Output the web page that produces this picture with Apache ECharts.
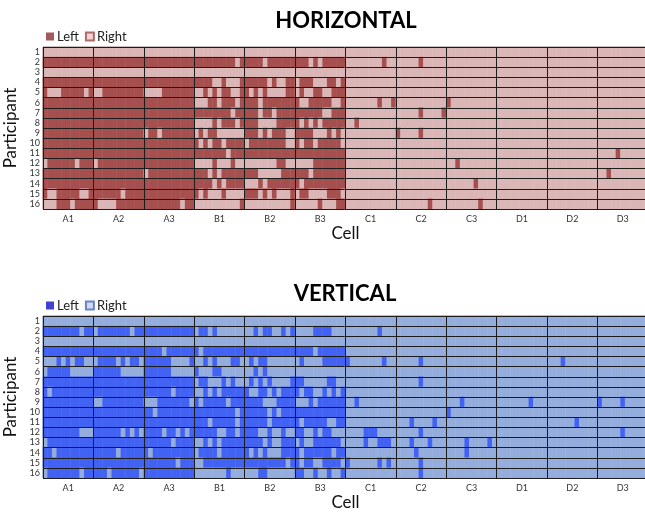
<!DOCTYPE html>
<html><head><meta charset="utf-8">
<script src="https://cdn.jsdelivr.net/npm/echarts@6/dist/echarts.min.js"></script>
<style>html,body{margin:0;padding:0;background:#fff}#c{width:645px;height:512px}</style>
</head><body><div id="c"></div>
<script>
const cells = ['A1','A2','A3','B1','B2','B3','C1','C2','C3','D1','D2','D3'];
const participants = ['1','2','3','4','5','6','7','8','9','10','11','12','13','14','15','16'];
const trialsPerCell = 11;
// 1 = Left, 0 = Right; one group of 11 trials per cell (A1 ... D3)
const horizontalRows = [
"00000000000 00000000000 00000000000 00000000000 00000000000 00000000000 00000000000 00000000000 00000000000 00000000000 00000000000 00000000000",
"11111111111 11111111111 11111111111 11111111101 11110111111 11101011111 00000000100 00000100000 00000000000 00000000000 00000000000 00000000000",
"00000000000 00000000000 00000000000 00000000000 00000000000 00000000000 00000000000 00000000000 00000000000 00000000000 00000000000 00000000000",
"11111111111 11111111111 11111111111 11110010001 11111010011 01110001101 00000000000 00000000000 00000000000 00000000000 00000000000 00000000000",
"10001111101 00111111111 00001111111 00101011001 10101000011 01001100111 00000000000 00000000000 00000000000 00000000000 00000000000 00000000000",
"11111111111 11111111111 11111111111 00011011101 11101111111 10011111001 00000001001 00000000000 10000000000 00000000000 00000000000 00000000000",
"11111111111 11111111111 11111111111 11111111011 11101101111 11111100111 00000000000 00000100001 00000000000 00000000000 00000000000 00000000000",
"11111111111 11111111111 11111111111 00001011101 11100001111 10101011111 00100000000 00000000000 00000000000 00000000000 00000000000 00000000000",
"11111111111 11111111111 01101111111 01011000000 11101011100 11110001010 00000000000 10000100000 00000000000 00000000000 00000000000 00000000000",
"11111111111 11111111111 11111111111 10101101111 01111111100 10110111110 00000000000 00000000000 00000000000 00000000000 00000000000 00000000000",
"11111111111 11111111111 11111111111 11111110111 11111111111 11111111111 00000000000 00000000000 00000000000 00000000000 00000000000 00001000000",
"01111110111 01111111111 11111111111 00001000100 00000001100 00001111111 00000000000 00000000000 00100000000 00000000000 00000000000 00000000000",
"11111111111 11111111111 01111111111 11101011111 11100000111 11101111111 00000000000 00000000000 00000000000 00000000000 00000000000 00100000000",
"11111111111 11111111111 11111111111 11110101111 00010111111 10111111111 00000000000 00000000000 00000010000 00000000000 00000000000 00000000000",
"10011111001 11111101111 11111111111 10100010000 11101010001 01100001110 00000000000 00000000000 00000000000 00000000000 00000000000 00000000000",
"00011101111 10000111111 11111111011 00000000001 00000000001 00000100011 00000000000 00000001000 00000001000 00000000000 00000000000 00000000000"
];
const verticalRows = [
"00000000000 00000000000 00000000000 00000000000 00000000000 00000000000 00000000000 00000000000 00000000000 00000000000 00000000000 00000000000",
"11111111011 01111111011 11111111111 01101000000 00101100101 00001111000 00000001000 00000000000 00000000000 00000000000 00000000000 00000000000",
"00000000000 00000000000 00000000000 00000000000 00000000000 00000000000 00000000000 00000000000 00000000000 00000000000 00000000000 00000000000",
"11111111111 11111111111 11110111111 10111111111 11111111111 11110111111 00000000000 00000000000 00000000000 00000000000 00000000000 00000000000",
"00010101100 01111010110 11111100001 00101000110 01011000000 01000011111 10000000100 00000100000 00000000000 00000000000 00010000000 00000000000",
"01111100000 11111100000 11111100000 10001100000 00101000000 00000000000 00000000000 00000000000 00000000000 00000000000 00000000000 00000000000",
"11111111111 11111111111 11111111111 01100010100 01010100001 11000001100 00000000000 00000100000 00000000000 00000000000 00000000000 00000000000",
"10111111111 11111111111 11111101111 00101011111 10011010111 10110010101 00000000000 00000000000 00000000000 00000000000 00000000000 00000000000",
"11111111111 00111111111 00011111110 10111110111 11110001111 00010111111 00100000000 00000000000 00010000000 00000001000 00000000000 10000100000",
"11111111111 11111111111 11011111111 11111111101 11111010111 11111111111 00000000000 00000000000 10000000000 00000000000 00000000000 00000000000",
"11111111111 11111111111 11111111111 11101111101 11111011111 10111110011 00000000000 00010000100 00000000000 00000000000 00000010000 00000000000",
"11111111000 11111101010 11110110101 11111001101 11100100100 11001011000 00001110000 00000100000 00000000000 00000000000 00000000000 00000100000",
"01111111111 11111111111 11111101111 00101011111 11110100111 01001111110 00001001110 00010001000 00001000010 00000000000 00000000000 00000000000",
"11011111111 11111011111 10111111111 01111011111 10101000111 10111111011 00000000000 00001000000 00001000000 00000000000 00000000000 00000000000",
"11111111111 11111111111 11111110111 00111111111 11111111101 10110011110 10000001010 00000100000 00000000000 00000000000 00000000000 00000000000",
"01111111011 11101111110 11111111111 00000001000 00011000000 11001001001 00000000000 00000100000 00000000000 00000000000 00000000000 00000000000"
];

function toHeat(rows){
  const out = [];
  rows.forEach((r, yi) => {
    const s = r.replace(/\s+/g, '');
    for (let j = 0; j < s.length; j++) out.push([j, yi, +s[j]]);
  });
  return out;
}
const trialCats = [];
for (let i = 0; i < cells.length * trialsPerCell; i++) trialCats.push(String(i));

const FONT = 'Lato';
const gridPos = [
  {left: 43, top: 47, width: 605, height: 162},
  {left: 43, top: 316, width: 605, height: 162}
];
const lineColor = '#1c1c1c';

function xAxesFor(g){
  return [
    {gridIndex: g, type: 'category', data: trialCats, show: false, position: 'bottom'},
    {gridIndex: g, type: 'category', data: cells, position: 'bottom', z: 10,
     axisLine: {show: false}, axisTick: {show: false},
     axisLabel: {interval: 0, fontSize: 9, color: '#333', margin: 6, fontFamily: FONT},
     splitLine: {show: true, interval: 0, lineStyle: {color: lineColor, width: 1}},
     name: 'Cell', nameLocation: 'middle', nameGap: 15,
     nameTextStyle: {fontSize: 17, color: '#111', fontFamily: FONT}}
  ];
}
function yAxisFor(g){
  return {gridIndex: g, type: 'category', data: participants, inverse: true, z: 10,
    axisLine: {show: false}, axisTick: {show: false},
    axisLabel: {interval: 0, fontSize: 9, color: '#333', margin: 3, fontFamily: FONT},
    splitLine: {show: true, interval: 0, lineStyle: {color: lineColor, width: 1}},
    name: 'Participant', nameLocation: 'middle', nameGap: 20,
    nameTextStyle: {fontSize: 17, color: '#111', fontFamily: FONT}};
}

const chart = echarts.init(document.getElementById('c'), null, {renderer: 'canvas'});
chart.setOption({
  animation: false,
  backgroundColor: '#fff',
  textStyle: {fontFamily: FONT},
  title: [
    {text: 'HORIZONTAL', left: 341, top: 5, textAlign: 'center',
     textStyle: {fontSize: 22, fontWeight: 'bold', color: '#000', fontFamily: FONT}},
    {text: 'VERTICAL', left: 340, top: 278, textAlign: 'center',
     textStyle: {fontSize: 22, fontWeight: 'bold', color: '#000', fontFamily: FONT}}
  ],
  legend: [
    {data: ['Left', 'Right'], left: 46, top: 30, padding: 0, itemWidth: 8, itemHeight: 8, itemGap: 6,
     icon: 'rect', selectedMode: false, textStyle: {fontSize: 13, color: '#222', padding: [0,0,0,-2]},
     formatter: n => n.trim()},
    {data: ['Left ', 'Right '], left: 46, top: 299, padding: 0, itemWidth: 8, itemHeight: 8, itemGap: 6,
     icon: 'rect', selectedMode: false, textStyle: {fontSize: 13, color: '#222', padding: [0,0,0,-2]},
     formatter: n => n.trim()}
  ],
  grid: gridPos.map(p => Object.assign({show: true, borderColor: '#8a8a8a', borderWidth: 1,
    backgroundColor: 'transparent', containLabel: false, outerBoundsMode: 'none'}, p)),
  xAxis: xAxesFor(0).concat(xAxesFor(1)),
  yAxis: [yAxisFor(0), yAxisFor(1)],
  visualMap: [
    {type: 'piecewise', show: false, seriesIndex: 0, dimension: 2,
     pieces: [{value: 1, color: '#a64f4f'}, {value: 0, color: '#dbb6b6'}]},
    {type: 'piecewise', show: false, seriesIndex: 1, dimension: 2,
     pieces: [{value: 1, color: '#4262f3'}, {value: 0, color: '#94addc'}]}
  ],
  series: [
    {type: 'heatmap', xAxisIndex: 0, yAxisIndex: 0, data: toHeat(horizontalRows), emphasis: {disabled: true}, silent: true},
    {type: 'heatmap', xAxisIndex: 2, yAxisIndex: 1, data: toHeat(verticalRows), emphasis: {disabled: true}, silent: true},
    {type: 'scatter', name: 'Left', xAxisIndex: 0, yAxisIndex: 0, data: [], itemStyle: {color: '#8b3232'}},
    {type: 'scatter', name: 'Right', xAxisIndex: 0, yAxisIndex: 0, data: [], itemStyle: {color: '#ecc8c8', borderColor: '#a04848', borderWidth: 1}},
    {type: 'scatter', name: 'Left ', xAxisIndex: 2, yAxisIndex: 1, data: [], itemStyle: {color: '#1212c8'}},
    {type: 'scatter', name: 'Right ', xAxisIndex: 2, yAxisIndex: 1, data: [], itemStyle: {color: '#c4d2f0', borderColor: '#4a66c0', borderWidth: 1}}
  ]
});
</script></body></html>
